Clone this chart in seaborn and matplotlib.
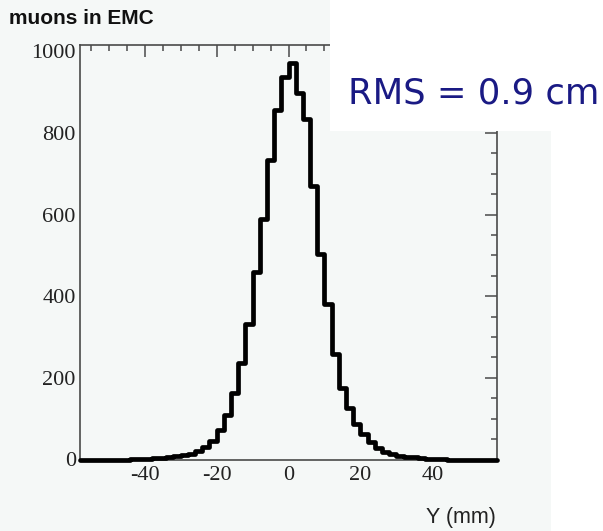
import numpy as np
import pandas as pd
import matplotlib
matplotlib.use("Agg")
import matplotlib.pyplot as plt
from matplotlib.patches import Rectangle
from matplotlib.ticker import MultipleLocator
import seaborn as sns

# ---- data ----
bin_edges = list(range(-58, 59, 2))  # 2 mm bins from -58 to 58
counts_left = [0, 0, 0, 0, 0, 0, 0, 1, 1,
               2, 3, 4, 6, 8, 10, 14, 20, 30, 46,
               73, 108, 164, 237, 333, 460, 590, 734, 857, 937]
counts_right = [972, 898, 835, 670, 503, 381, 258, 176, 125, 87,
                62, 43, 29, 18, 13, 9, 7, 5, 3, 2,
                1, 1, 0, 0, 0, 0, 0, 0, 0]
counts = counts_left + counts_right
bin_centers = [(a + b) / 2 for a, b in zip(bin_edges[:-1], bin_edges[1:])]
df = pd.DataFrame({"y": bin_centers, "n": counts})

title_text = "muons in EMC"
xlabel_text = "Y (mm)"
rms_text = "RMS = 0.9 cm"
xtick_vals = [-40, -20, 0, 20, 40]
xtick_labels = ['-40', '-20', '0', '20', '40']

sns.set_theme(style="white")
plt.rcParams['axes.unicode_minus'] = False
plt.rcParams['font.family'] = ['DejaVu Sans']

W, H = 603, 531
fig = plt.figure(figsize=(W / 100, H / 100), dpi=100, facecolor='white')

# light tinted background of the pasted chart image
fig.add_artist(Rectangle((0, 0), 551 / W, 1, transform=fig.transFigure,
                         facecolor='#f5f8f7', edgecolor='none', zorder=-5))

left, right, top, bottom = 80, 497, 44.5, 459.5
ax = fig.add_axes([left / W, 1 - bottom / H, (right - left) / W, (bottom - top) / H])
ax.set_facecolor('#f5f8f7')

sns.histplot(data=df, x="y", weights="n", bins=bin_edges, element='step',
             fill=False, color='black', linewidth=3.4, ax=ax)
for ln in ax.lines:
    ln.set_clip_on(False)
    ln.set_zorder(3)
for p in ax.patches:
    p.set_clip_on(False)
    p.set_zorder(3)

ax.set_xlim(-58, 58)
ax.set_ylim(0, 1017)
ax.set_xlabel("")
ax.set_ylabel("")

ax.xaxis.set_major_locator(MultipleLocator(20))
ax.xaxis.set_minor_locator(MultipleLocator(5))
ax.yaxis.set_major_locator(MultipleLocator(200))
ax.yaxis.set_minor_locator(MultipleLocator(50))

spine_col = '#4a4a4a'
for s in ax.spines.values():
    s.set_color(spine_col)
    s.set_linewidth(1.2)
    s.set_visible(True)

ax.tick_params(which='both', direction='in', top=True, right=True,
               color=spine_col, width=1.1)
ax.tick_params(which='major', length=8.6)
ax.tick_params(which='minor', length=4.3)
ax.tick_params(axis='x', which='major', pad=5)
ax.tick_params(axis='y', which='major', pad=3)
ax.tick_params(labeltop=False, labelright=False)

ax.set_xticks(xtick_vals)
ax.set_xticklabels(xtick_labels)
for lab in ax.get_xticklabels() + ax.get_yticklabels():
    lab.set_fontfamily('Liberation Serif')
    lab.set_fontsize(16)
    lab.set_color('#222222')

fig.text(9 / W, 1 - 19 / H, title_text, fontsize=15, fontweight='bold',
         fontfamily='Liberation Sans', ha='left', va='center', color='#111111')
fig.text(496 / W, 1 - 517 / H, xlabel_text, fontsize=15.5,
         fontfamily='Liberation Sans', ha='right', va='center', color='#222222')

# white pasted box with RMS annotation
fig.add_artist(Rectangle((330 / W, 1 - 131 / H), (W - 330) / W, 131 / H,
                         transform=fig.transFigure, facecolor='white',
                         edgecolor='none', zorder=10))
fig.text(474 / W, 1 - 94 / H, rms_text, fontsize=25.5, color='#1a1a84',
         fontfamily='DejaVu Sans', ha='center', va='center', zorder=11)

fig.savefig('out.png', dpi=100, facecolor=fig.get_facecolor())
